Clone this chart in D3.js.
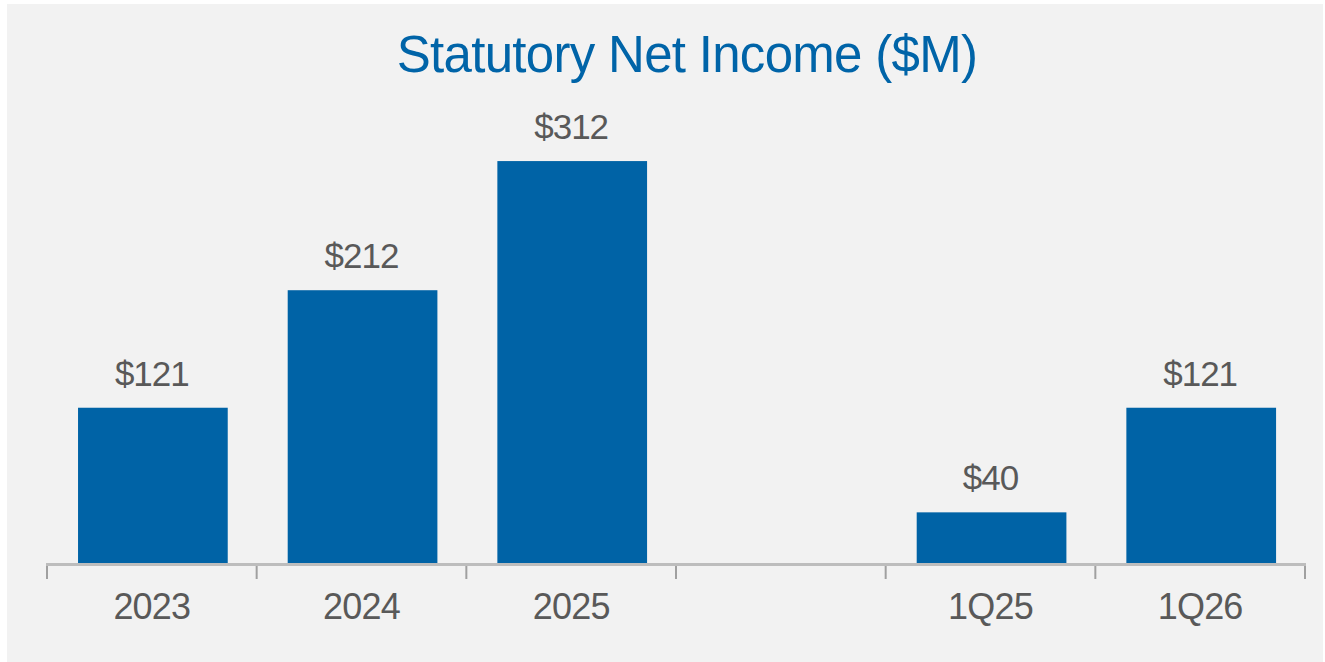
<!DOCTYPE html>
<html>
<head>
<meta charset="utf-8">
<script src="https://cdn.jsdelivr.net/npm/d3@7"></script>
<style>
  html, body { margin: 0; padding: 0; background: #ffffff; }
  svg { display: block; }
  text { font-family: "Liberation Sans", Arial, sans-serif; }
</style>
</head>
<body>
<svg id="chart" width="1325" height="662"></svg>
<script>
const title = "Statutory Net Income ($M)";
const categories = ["2023", "2024", "2025", "gap", "1Q25", "1Q26"];
const tickLabels = ["2023", "2024", "2025", "", "1Q25", "1Q26"];
const values = [121, 212, 312, null, 40, 121];
const valueLabels = ["$121", "$212", "$312", "", "$40", "$121"];

const W = 1325, H = 662;
const svg = d3.select("#chart");

svg.append("rect")
  .attr("x", 7).attr("y", 4)
  .attr("width", 1316).attr("height", 658)
  .attr("fill", "#f2f2f2");

const x = d3.scaleBand().domain(categories).range([47, 1305]).padding(0);
const y = d3.scaleLinear().domain([0, 350]).range([564, 112]);
const bw = x.bandwidth();

// title
svg.append("text")
  .attr("x", 687).attr("y", 72)
  .attr("text-anchor", "middle")
  .attr("fill", "#0064a8")
  .style("font-size", "51px")
  .style("letter-spacing", "-0.7px")
  .text(title);

const data = categories.map((c, i) => ({ c, v: values[i], lbl: valueLabels[i], t: tickLabels[i] }));

// bars
svg.append("g").selectAll("rect")
  .data(data.filter(d => d.v != null))
  .join("rect")
  .attr("x", d => x(d.c) + bw * 0.148)
  .attr("width", bw * 0.714)
  .attr("y", d => y(d.v))
  .attr("height", d => y(0) - y(d.v))
  .attr("fill", "#0063a6");

// value labels
svg.append("g").selectAll("text")
  .data(data.filter(d => d.v != null))
  .join("text")
  .attr("x", d => x(d.c) + bw / 2)
  .attr("y", d => y(d.v) - 22)
  .attr("text-anchor", "middle")
  .attr("fill", "#595959")
  .style("font-size", "35px")
  .style("letter-spacing", "-1px")
  .text(d => d.lbl);

// axis
const axis = d3.axisBottom(x).tickSize(0).tickFormat((d, i) => tickLabels[i]);
const gAxis = svg.append("g").attr("transform", `translate(0,${y(0)})`).call(axis);
gAxis.select(".domain").remove();
gAxis.selectAll("text")
  .attr("y", 55).attr("dy", 0)
  .attr("fill", "#595959")
  .style("font-family", "'Liberation Sans', Arial, sans-serif")
  .style("font-size", "36px")
  .style("letter-spacing", "-0.8px");

// boundary ticks
const bounds = categories.map(c => x(c)).concat([x(categories[categories.length - 1]) + bw]);
svg.append("g").selectAll("line")
  .data(bounds)
  .join("line")
  .attr("x1", d => d).attr("x2", d => d)
  .attr("y1", y(0)).attr("y2", y(0) + 15)
  .attr("stroke", "#a0a0a0")
  .attr("stroke-width", 2);

// axis line
svg.append("line")
  .attr("x1", 46).attr("x2", 1306)
  .attr("y1", y(0) + 0.5).attr("y2", y(0) + 0.5)
  .attr("stroke", "#bdbdbd")
  .attr("stroke-width", 3);
</script>
</body>
</html>
